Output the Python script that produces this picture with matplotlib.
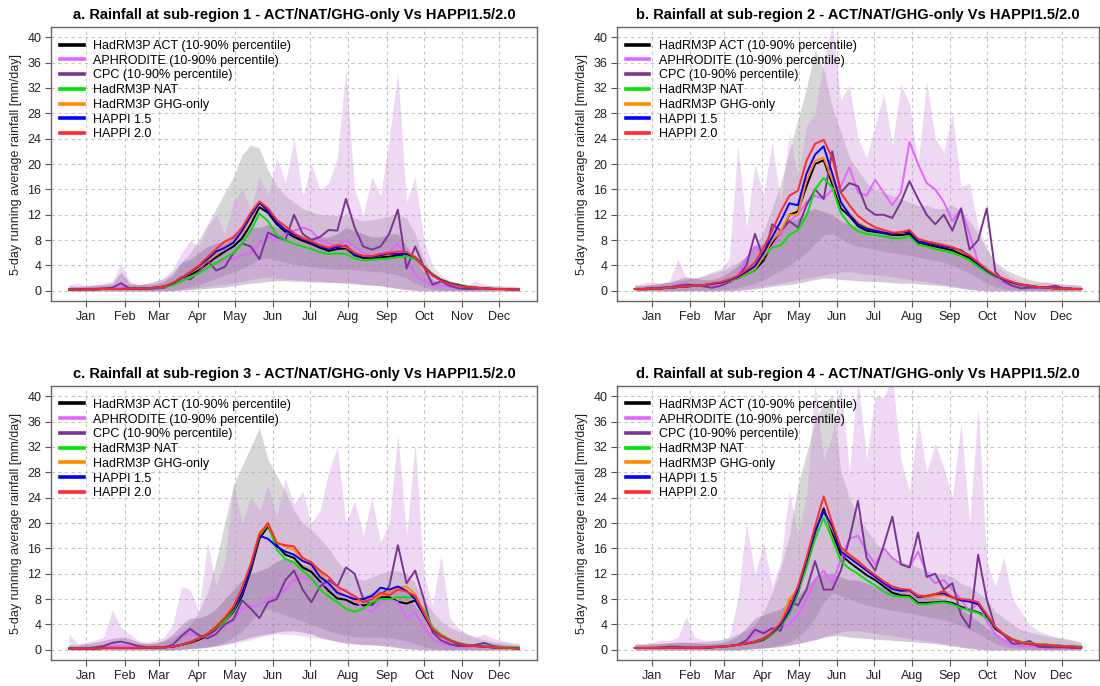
import matplotlib.pyplot as plt
from matplotlib.lines import Line2D
import numpy as np

plt.rcParams['font.family'] = ['Liberation Sans', 'DejaVu Sans']

# weekly sampling days (1 Jan .. 31 Dec) of the 5-day running means
DAYS = np.arange(1, 366, 7)
MONTH_DAYS = [15, 46, 74, 105, 135, 166, 196, 227, 258, 288, 319, 349]
MONTHS = ['Jan', 'Feb', 'Mar', 'Apr', 'May', 'Jun', 'Jul', 'Aug', 'Sep', 'Oct', 'Nov', 'Dec']
Y_TICKS = [0, 4, 8, 12, 16, 20, 24, 28, 32, 36, 40]

TITLES = [
    'a. Rainfall at sub-region 1 - ACT/NAT/GHG-only Vs HAPPI1.5/2.0',
    'b. Rainfall at sub-region 2 - ACT/NAT/GHG-only Vs HAPPI1.5/2.0',
    'c. Rainfall at sub-region 3 - ACT/NAT/GHG-only Vs HAPPI1.5/2.0',
    'd. Rainfall at sub-region 4 - ACT/NAT/GHG-only Vs HAPPI1.5/2.0',
]
LABELS = ['HadRM3P ACT (10-90% percentile)', 'APHRODITE (10-90% percentile)',
          'CPC (10-90% percentile)', 'HadRM3P NAT', 'HadRM3P GHG-only',
          'HAPPI 1.5', 'HAPPI 2.0']
COLORS = ['#000000', '#e066ff', '#7b3494', '#00e400', '#ff8c00', '#0000ff', '#ff2a2a']
BAND_COLORS = ['#a8a8a8', '#cc88dd', '#7a4b8a']
BAND_ALPHA = [0.45, 0.32, 0.30]

# ---------------- sub-region 1 ----------------
A_ACT = [0.2, 0.2, 0.25, 0.25, 0.3, 0.3, 0.3, 0.35, 0.35, 0.4, 0.5, 0.7, 1.1, 1.8, 2.5, 3.3, 4.3, 5.3, 6.2, 7.0,
         8.3, 10.5, 13.2, 12.3, 10.5, 9.3, 8.5, 7.9, 7.4, 6.8, 6.3, 6.6, 6.7, 5.6, 5.2, 5.2, 5.3, 5.4, 5.6, 5.7,
         5.2, 3.8, 2.5, 1.7, 1.2, 0.9, 0.6, 0.5, 0.4, 0.3, 0.3, 0.25, 0.2]
A_NAT = [0.2, 0.2, 0.25, 0.25, 0.3, 0.3, 0.3, 0.35, 0.35, 0.4, 0.5, 0.6, 0.9, 1.5, 2.1, 2.8, 3.6, 4.4, 5.2, 6.0,
         7.5, 9.5, 12.2, 11.0, 8.8, 8.0, 7.4, 7.0, 6.6, 6.1, 5.8, 5.9, 5.8, 5.1, 4.8, 4.9, 5.0, 5.1, 5.3, 5.5,
         5.0, 3.9, 2.7, 1.8, 1.3, 1.0, 0.7, 0.5, 0.4, 0.35, 0.3, 0.3, 0.3]
A_GHG = [0.2, 0.2, 0.25, 0.25, 0.3, 0.3, 0.3, 0.35, 0.35, 0.4, 0.5, 0.7, 1.2, 2.0, 2.8, 3.7, 4.8, 5.9, 7.0, 7.8,
         9.2, 11.5, 13.8, 12.8, 11.0, 9.8, 9.0, 8.3, 7.8, 7.2, 6.8, 7.0, 6.9, 5.8, 5.5, 5.4, 5.6, 5.8, 5.9, 6.0,
         5.4, 3.9, 2.6, 1.7, 1.2, 0.9, 0.6, 0.5, 0.4, 0.3, 0.3, 0.25, 0.2]
A_H15 = [0.2, 0.2, 0.25, 0.25, 0.3, 0.3, 0.3, 0.35, 0.35, 0.4, 0.5, 0.7, 1.2, 2.0, 2.9, 3.9, 5.0, 6.2, 6.8, 7.6,
         9.5, 11.8, 13.9, 12.6, 10.8, 9.6, 8.9, 8.2, 7.6, 7.0, 6.6, 6.9, 7.1, 5.7, 5.4, 5.4, 5.6, 5.9, 5.8, 5.9,
         5.3, 3.8, 2.5, 1.7, 1.2, 0.9, 0.6, 0.5, 0.4, 0.3, 0.3, 0.25, 0.2]
A_H20 = [0.2, 0.2, 0.25, 0.25, 0.3, 0.3, 0.3, 0.35, 0.35, 0.4, 0.5, 0.7, 1.3, 2.1, 3.0, 4.0, 5.3, 6.6, 7.8, 8.4,
         10.0, 12.3, 14.1, 13.0, 11.2, 10.2, 9.1, 8.3, 7.8, 7.2, 6.8, 7.2, 7.0, 6.0, 5.5, 5.5, 5.8, 6.0, 6.2, 6.1,
         5.3, 3.7, 2.4, 1.6, 1.1, 0.8, 0.6, 0.5, 0.4, 0.3, 0.3, 0.25, 0.2]
A_CPC = [0.3, 0.2, 0.3, 0.3, 0.4, 0.5, 1.2, 0.4, 0.3, 0.3, 0.4, 0.5, 1.2, 2.2, 1.8, 3.0, 4.8, 3.2, 3.8, 6.0,
         7.5, 7.0, 5.0, 9.2, 8.5, 8.0, 12.0, 9.0, 8.0, 8.5, 9.6, 9.5, 14.5, 10.0, 7.0, 6.5, 7.0, 9.0, 12.8, 3.5,
         7.0, 3.8, 1.0, 1.5, 0.8, 0.4, 0.3, 0.3, 0.4, 0.3, 0.3, 0.2, 0.2]
A_APH = [0.2, 0.2, 0.2, 0.3, 0.3, 0.3, 0.6, 0.3, 0.3, 0.3, 0.4, 0.5, 0.9, 1.8, 2.2, 2.8, 3.8, 4.2, 4.8, 5.0,
         5.6, 6.0, 7.5, 8.5, 8.0, 9.0, 9.5, 10.0, 9.5, 8.0, 7.5, 7.0, 8.0, 7.0, 6.0, 5.5, 6.0, 6.2, 7.5, 5.0,
         2.5, 1.5, 0.8, 1.0, 0.6, 0.4, 0.3, 0.3, 0.3, 0.3, 0.2, 0.2, 0.2]
A_ACT_LO = [0, 0, 0, 0, 0, 0, 0, 0, 0, 0, 0, 0.05, 0.1, 0.3, 0.6, 1.0, 1.5, 2.0, 2.5, 3.0,
            3.5, 4.2, 5.0, 5.2, 4.8, 4.5, 4.2, 4.0, 3.8, 3.6, 3.5, 3.4, 3.4, 3.3, 3.2, 3.1, 3.0, 2.8, 2.5, 2.0,
            1.2, 0.6, 0.3, 0.15, 0.1, 0.05, 0, 0, 0, 0, 0, 0, 0]
A_ACT_HI = [0.6, 0.6, 0.7, 0.7, 0.8, 0.8, 0.9, 1.0, 1.0, 1.2, 1.5, 2.0, 3.0, 4.5, 6.0, 8.0, 10.5, 13.0, 15.5, 18.0,
            21.5, 23.0, 22.5, 19.0, 16.5, 15.0, 14.0, 13.0, 12.5, 12.0, 12.0, 11.8, 12.0, 11.5, 11.0, 11.2, 11.5,
            11.8, 12.0, 11.5, 9.0, 5.0, 2.5, 1.8, 1.5, 1.2, 1.0, 0.9, 0.8, 0.8, 0.7, 0.7, 0.6]
A_CPC_LO = [0, 0, 0, 0, 0, 0, 0, 0, 0, 0, 0, 0, 0, 0.1, 0.2, 0.3, 0.4, 0.5, 0.6, 0.8,
            1.0, 1.2, 1.3, 1.5, 1.6, 1.6, 1.5, 1.5, 1.4, 1.4, 1.3, 1.3, 1.2, 1.1, 1.0, 0.9, 0.8, 0.6, 0.4, 0.2,
            0.1, 0, 0, 0, 0, 0, 0, 0, 0, 0, 0, 0, 0]
A_CPC_HI = [0.8, 0.7, 0.8, 0.9, 1.0, 1.2, 3.0, 1.2, 1.0, 1.0, 1.1, 1.5, 2.5, 4.5, 5.0, 6.0, 7.0, 7.5, 8.0, 9.0,
            9.5, 10.0, 10.0, 10.5, 10.0, 9.5, 9.0, 8.8, 8.5, 8.5, 8.5, 9.0, 10.0, 9.5, 9.0, 8.5, 8.5, 9.0, 9.0, 7.0,
            5.0, 3.0, 1.8, 1.2, 0.9, 0.8, 0.7, 0.6, 0.6, 0.6, 0.5, 0.5, 0.5]
A_APH_LO = [0, 0, 0, 0, 0, 0, 0, 0, 0, 0, 0, 0, 0.1, 0.2, 0.3, 0.5, 0.7, 0.9, 1.0, 1.2,
            1.5, 1.8, 2.0, 2.2, 2.0, 1.8, 1.8, 1.7, 1.6, 1.5, 1.4, 1.3, 1.3, 1.2, 1.0, 0.9, 0.8, 0.6, 0.4, 0.2,
            0.1, 0, 0, 0, 0, 0, 0, 0, 0, 0, 0, 0, 0]
A_APH_HI = [1.0, 1.2, 0.8, 1.0, 1.2, 1.5, 4.3, 1.5, 1.0, 1.2, 1.5, 2.0, 3.5, 6.0, 8.0, 7.0, 10.0, 12.0, 9.0, 14.0,
            16.0, 13.0, 18.0, 15.0, 21.0, 17.0, 24.0, 15.0, 20.0, 16.0, 17.0, 21.0, 35.0, 16.0, 12.0, 18.0, 15.0,
            24.0, 34.5, 14.0, 18.0, 8.0, 4.0, 2.5, 1.5, 1.2, 1.0, 1.5, 1.0, 0.8, 0.8, 0.7, 0.6]

# ---------------- sub-region 2 ----------------
B_ACT = [0.3, 0.3, 0.4, 0.4, 0.5, 0.6, 0.7, 0.8, 0.9, 1.1, 1.3, 1.6, 2.0, 2.6, 3.3, 4.8, 7.5, 9.0, 12.0, 12.5,
         16.5, 20.0, 20.6, 16.8, 13.0, 11.8, 10.2, 9.5, 9.3, 9.1, 8.8, 8.8, 9.0, 7.6, 7.3, 7.0, 6.7, 6.4, 5.8, 5.2,
         4.2, 3.2, 2.3, 1.8, 1.3, 0.9, 0.8, 0.6, 0.5, 0.4, 0.4, 0.3, 0.3]
B_NAT = [0.3, 0.3, 0.4, 0.4, 0.5, 0.6, 0.7, 0.8, 0.9, 1.1, 1.3, 1.6, 2.0, 2.5, 3.3, 5.5, 6.8, 7.2, 8.8, 9.6,
         11.8, 16.0, 17.8, 16.3, 12.3, 10.5, 9.4, 9.0, 8.8, 8.6, 8.3, 8.3, 8.6, 7.3, 7.0, 6.6, 6.3, 6.0, 5.5, 4.8,
         3.8, 2.9, 2.2, 1.8, 1.3, 1.0, 0.8, 0.6, 0.5, 0.4, 0.4, 0.3, 0.3]
B_GHG = [0.3, 0.3, 0.4, 0.4, 0.5, 0.6, 0.7, 0.8, 0.9, 1.1, 1.3, 1.7, 2.1, 2.8, 3.6, 5.5, 8.0, 9.5, 12.0, 12.0,
         17.5, 20.5, 21.0, 17.5, 13.8, 12.2, 10.8, 10.0, 9.6, 9.3, 9.0, 9.3, 9.5, 8.0, 7.7, 7.4, 7.1, 6.8, 6.2, 5.5,
         4.4, 3.3, 2.4, 1.9, 1.4, 1.0, 0.8, 0.6, 0.5, 0.4, 0.4, 0.3, 0.3]
B_H15 = [0.3, 0.3, 0.4, 0.4, 0.5, 0.6, 0.7, 0.8, 0.9, 1.1, 1.3, 1.7, 2.2, 3.0, 3.9, 6.0, 8.5, 11.0, 13.8, 13.5,
         18.5, 21.5, 22.8, 18.5, 14.0, 12.0, 10.5, 9.8, 9.5, 9.2, 9.0, 9.2, 9.3, 7.8, 7.6, 7.3, 7.0, 6.8, 6.4, 5.5,
         4.3, 3.2, 2.4, 1.8, 1.3, 1.0, 0.8, 0.6, 0.5, 0.4, 0.4, 0.3, 0.3]
B_H20 = [0.3, 0.3, 0.4, 0.4, 0.5, 0.6, 0.7, 0.8, 0.9, 1.2, 1.4, 1.8, 2.4, 3.3, 4.5, 6.8, 9.5, 12.5, 15.0, 15.8,
         20.5, 23.2, 23.8, 21.0, 15.5, 13.5, 11.8, 10.8, 10.0, 9.6, 9.2, 9.2, 9.6, 8.2, 7.8, 7.5, 7.2, 6.9, 6.3, 5.6,
         4.5, 3.4, 2.5, 1.9, 1.4, 1.0, 0.8, 0.6, 0.5, 0.4, 0.4, 0.3, 0.3]
B_CPC = [0.3, 0.2, 0.4, 0.5, 0.6, 0.8, 1.0, 0.9, 0.7, 0.5, 0.8, 1.4, 2.2, 4.0, 9.0, 5.0, 10.5, 9.5, 11.0, 10.0,
         13.5, 16.0, 14.5, 22.0, 15.5, 17.0, 16.5, 13.0, 12.0, 12.0, 11.5, 14.0, 17.3, 14.5, 12.0, 10.5, 12.0,
         9.5, 13.0, 6.5, 8.0, 13.0, 3.0, 1.5, 0.8, 0.4, 0.5, 0.5, 0.6, 0.8, 0.4, 0.3, 0.3]
B_APH = [0.3, 0.3, 0.4, 0.5, 0.5, 1.0, 1.0, 0.8, 0.8, 0.9, 1.0, 1.3, 2.5, 5.0, 7.0, 5.5, 7.0, 9.0, 11.0, 12.0,
         14.0, 15.0, 14.5, 16.0, 16.5, 19.5, 15.5, 15.0, 17.5, 15.5, 13.5, 15.5, 23.5, 20.0, 17.0, 16.0, 14.0,
         11.0, 13.0, 9.0, 4.5, 3.0, 2.0, 1.2, 0.7, 0.5, 0.5, 0.4, 0.4, 0.6, 0.4, 0.3, 0.3]
B_ACT_LO = [0, 0, 0, 0, 0, 0, 0.05, 0.1, 0.1, 0.15, 0.2, 0.3, 0.5, 0.8, 1.2, 1.8, 2.5, 3.2, 4.0, 5.0,
            6.0, 7.5, 8.8, 9.0, 8.2, 7.5, 7.0, 6.8, 6.5, 6.2, 6.0, 5.8, 5.6, 5.3, 5.0, 4.8, 4.5, 4.0, 3.4, 2.8,
            2.0, 1.2, 0.6, 0.3, 0.2, 0.1, 0.05, 0, 0, 0, 0, 0, 0]
B_ACT_HI = [0.8, 0.9, 1.0, 1.1, 1.3, 1.5, 1.8, 2.0, 2.3, 2.8, 3.2, 3.8, 4.5, 5.5, 7.0, 9.5, 13.0, 17.0, 22.0, 27.0,
            32.0, 38.0, 35.0, 29.0, 25.0, 21.0, 19.0, 17.0, 16.0, 15.5, 15.0, 14.5, 14.0, 13.5, 13.5, 13.0, 13.0,
            13.5, 12.5, 11.0, 9.0, 6.5, 4.5, 3.5, 2.8, 2.2, 1.8, 1.5, 1.3, 1.2, 1.1, 1.0, 0.9]
B_CPC_LO = [0, 0, 0, 0, 0, 0, 0, 0, 0, 0, 0, 0, 0.1, 0.2, 0.3, 0.5, 0.7, 0.9, 1.0, 1.2,
            1.5, 1.8, 2.0, 2.0, 1.8, 1.7, 1.6, 1.5, 1.5, 1.4, 1.3, 1.2, 1.2, 1.1, 1.0, 0.9, 0.8, 0.6, 0.4, 0.2,
            0.1, 0, 0, 0, 0, 0, 0, 0, 0, 0, 0, 0, 0]
B_CPC_HI = [0.8, 0.8, 1.0, 1.2, 1.4, 1.8, 2.2, 2.0, 1.8, 1.8, 2.2, 3.0, 4.0, 5.5, 7.0, 7.5, 9.0, 10.0, 11.0, 11.5,
            12.5, 13.0, 12.5, 12.0, 11.0, 10.5, 10.0, 9.5, 9.5, 9.2, 9.0, 9.0, 9.0, 8.5, 8.0, 7.8, 7.5, 7.0, 6.5, 5.5,
            4.5, 3.5, 2.5, 1.8, 1.3, 1.0, 0.9, 0.8, 0.8, 0.8, 0.7, 0.7, 0.6]
B_APH_LO = [0, 0, 0, 0, 0, 0, 0, 0, 0, 0, 0, 0, 0.1, 0.3, 0.5, 0.8, 1.0, 1.2, 1.5, 1.8,
            2.0, 2.2, 2.5, 2.8, 3.0, 3.0, 2.8, 2.6, 2.5, 2.4, 2.2, 2.0, 1.8, 1.6, 1.4, 1.2, 1.0, 0.8, 0.5, 0.3,
            0.1, 0, 0, 0, 0, 0, 0, 0, 0, 0, 0, 0, 0]
B_APH_HI = [1.0, 1.2, 1.5, 1.2, 1.5, 5.0, 2.0, 2.0, 2.5, 3.0, 3.5, 5.0, 23.0, 10.0, 20.0, 15.0, 23.5, 14.0, 25.0,
            18.0, 26.0, 28.0, 36.0, 42.0, 30.0, 32.5, 24.0, 21.0, 26.0, 31.0, 23.0, 32.5, 29.5, 20.0, 33.0, 24.0,
            22.0, 28.0, 16.5, 17.0, 10.0, 7.0, 4.0, 3.0, 2.0, 1.5, 1.2, 1.2, 1.5, 1.2, 1.0, 1.0, 0.8]

# ---------------- sub-region 3 ----------------
C_ACT = [0.2, 0.2, 0.2, 0.2, 0.3, 0.3, 0.3, 0.3, 0.3, 0.3, 0.4, 0.4, 0.5, 0.8, 1.1, 1.6, 2.2, 3.3, 4.5, 6.0,
         8.5, 12.5, 17.5, 19.5, 16.5, 15.0, 14.5, 13.0, 12.3, 10.8, 9.3, 8.1, 7.9, 7.2, 7.0, 7.2, 8.3, 8.3, 7.6, 7.3,
         7.8, 5.5, 3.2, 2.2, 1.5, 0.9, 0.7, 0.6, 0.5, 0.4, 0.3, 0.3, 0.2]
C_NAT = [0.2, 0.2, 0.2, 0.2, 0.3, 0.3, 0.3, 0.3, 0.3, 0.3, 0.4, 0.4, 0.5, 0.8, 1.2, 1.8, 2.4, 3.4, 4.5, 6.2,
         9.0, 13.0, 18.0, 19.8, 15.8, 14.3, 13.8, 12.5, 11.3, 9.5, 8.4, 7.5, 6.5, 6.0, 6.5, 7.5, 8.0, 8.0, 8.3, 8.3,
         8.2, 6.3, 3.6, 2.4, 1.6, 1.1, 0.8, 0.6, 0.5, 0.5, 0.4, 0.4, 0.4]
C_GHG = [0.2, 0.2, 0.2, 0.2, 0.3, 0.3, 0.3, 0.3, 0.3, 0.3, 0.4, 0.4, 0.5, 0.8, 1.2, 1.8, 2.6, 3.8, 5.2, 7.0,
         9.5, 13.5, 18.5, 19.8, 17.0, 16.3, 15.8, 14.2, 13.2, 12.3, 10.5, 9.3, 8.5, 7.8, 7.5, 8.0, 8.6, 9.2, 9.8, 10.0,
         8.8, 6.0, 3.4, 2.3, 1.5, 1.0, 0.7, 0.6, 0.5, 0.4, 0.3, 0.3, 0.2]
C_H15 = [0.2, 0.2, 0.2, 0.2, 0.3, 0.3, 0.3, 0.3, 0.3, 0.3, 0.4, 0.4, 0.5, 0.8, 1.2, 1.8, 2.5, 3.6, 5.0, 6.5,
         9.0, 13.0, 18.0, 17.5, 16.3, 15.5, 15.0, 14.0, 13.5, 11.5, 10.5, 9.0, 8.5, 8.0, 8.0, 8.5, 9.8, 9.5, 10.0, 9.3,
         8.0, 5.5, 3.2, 2.2, 1.5, 1.0, 0.7, 0.6, 0.5, 0.4, 0.3, 0.3, 0.2]
C_H20 = [0.2, 0.2, 0.2, 0.2, 0.3, 0.3, 0.3, 0.3, 0.3, 0.3, 0.4, 0.4, 0.5, 0.8, 1.2, 1.8, 2.5, 3.6, 5.0, 6.8,
         9.8, 13.5, 18.2, 20.0, 16.8, 16.5, 16.3, 14.5, 13.8, 12.5, 11.5, 10.0, 9.2, 8.5, 7.5, 8.0, 9.0, 8.6, 9.5, 9.2,
         8.5, 5.8, 3.3, 2.2, 1.5, 1.0, 0.7, 0.6, 0.5, 0.4, 0.3, 0.3, 0.2]
C_CPC = [0.3, 0.2, 0.2, 0.4, 0.6, 1.1, 1.3, 1.0, 0.6, 0.4, 0.3, 0.4, 0.8, 2.2, 3.3, 2.3, 1.8, 2.5, 4.0, 4.8,
         7.8, 6.5, 5.0, 7.5, 8.0, 11.0, 12.5, 9.5, 7.5, 10.0, 11.0, 10.0, 13.0, 12.0, 8.0, 7.0, 8.5, 10.0, 16.5,
         10.5, 12.5, 8.0, 2.8, 1.5, 0.9, 0.6, 0.6, 0.8, 1.1, 0.6, 0.4, 0.3, 0.2]
C_APH = [0.2, 0.2, 0.3, 0.3, 0.4, 0.6, 0.7, 0.6, 0.4, 0.4, 0.3, 0.4, 0.9, 2.0, 2.6, 2.0, 2.0, 2.8, 3.8, 4.5,
         6.5, 6.8, 7.0, 8.0, 8.5, 9.5, 11.0, 11.5, 11.0, 10.5, 10.0, 9.5, 9.5, 8.0, 6.5, 6.0, 7.5, 8.0, 7.5, 5.0,
         6.0, 3.5, 1.8, 1.0, 0.6, 0.5, 0.4, 0.5, 0.6, 0.4, 0.3, 0.3, 0.2]
C_ACT_LO = [0, 0, 0, 0, 0, 0, 0, 0, 0, 0, 0, 0, 0, 0.1, 0.2, 0.3, 0.5, 0.8, 1.2, 2.0,
            3.0, 4.5, 6.0, 6.5, 6.0, 5.5, 5.0, 4.5, 4.0, 3.5, 3.0, 2.6, 2.3, 2.1, 2.0, 2.0, 2.0, 1.9, 1.7, 1.4,
            1.0, 0.5, 0.2, 0.1, 0, 0, 0, 0, 0, 0, 0, 0, 0]
C_ACT_HI = [0.6, 0.6, 0.7, 0.7, 0.8, 0.8, 0.9, 0.9, 1.0, 1.0, 1.2, 1.5, 2.0, 2.8, 4.0, 6.0, 9.0, 14.0, 20.0, 26.0,
            29.0, 32.0, 35.0, 30.0, 27.5, 25.0, 22.0, 20.0, 19.0, 17.5, 16.0, 14.0, 12.5, 11.5, 11.0, 11.5, 12.0,
            12.5, 12.5, 12.0, 10.5, 8.0, 6.0, 4.5, 3.5, 3.0, 2.5, 2.0, 1.6, 1.3, 1.2, 1.0, 0.9]
C_CPC_LO = [0, 0, 0, 0, 0, 0, 0, 0, 0, 0, 0, 0, 0, 0.1, 0.2, 0.3, 0.4, 0.6, 0.9, 1.2,
            1.6, 2.0, 2.3, 2.5, 2.8, 3.0, 3.0, 2.8, 2.5, 2.0, 1.6, 1.3, 1.0, 0.9, 0.8, 0.8, 0.7, 0.6, 0.4, 0.2,
            0.1, 0, 0, 0, 0, 0, 0, 0, 0, 0, 0, 0, 0]
C_CPC_HI = [0.8, 0.8, 1.0, 1.2, 1.5, 1.8, 2.0, 1.8, 1.2, 1.0, 1.0, 1.5, 2.5, 4.0, 5.0, 5.0, 5.5, 6.5, 8.0, 9.5,
            11.0, 12.0, 12.5, 13.0, 14.0, 14.5, 14.0, 13.5, 13.0, 12.0, 10.5, 9.0, 8.0, 8.0, 8.5, 9.0, 9.5, 9.5, 9.5,
            9.0, 7.0, 5.0, 3.0, 2.0, 1.5, 1.2, 1.0, 1.0, 1.2, 1.0, 0.8, 0.7, 0.6]
C_APH_LO = [0, 0, 0, 0, 0, 0, 0, 0, 0, 0, 0, 0, 0, 0.1, 0.2, 0.3, 0.4, 0.6, 0.8, 1.0,
            1.3, 1.6, 2.0, 2.3, 2.5, 2.5, 2.4, 2.2, 2.0, 1.8, 1.6, 1.4, 1.2, 1.0, 0.9, 0.8, 0.7, 0.5, 0.3, 0.2,
            0.1, 0, 0, 0, 0, 0, 0, 0, 0, 0, 0, 0, 0]
C_APH_HI = [2.5, 1.0, 1.2, 1.5, 2.0, 6.3, 3.5, 2.5, 1.5, 1.2, 1.5, 2.0, 4.0, 10.0, 9.5, 6.0, 17.0, 10.0, 14.0, 26.0,
            20.0, 24.0, 22.0, 26.0, 21.0, 27.0, 23.0, 25.0, 20.0, 22.0, 28.0, 32.0, 20.0, 23.6, 18.0, 24.0, 17.0,
            20.0, 34.0, 18.0, 32.5, 12.0, 7.0, 15.0, 5.0, 3.5, 2.5, 2.0, 2.5, 1.8, 1.5, 1.2, 1.0]

# ---------------- sub-region 4 ----------------
D_ACT = [0.3, 0.3, 0.3, 0.3, 0.3, 0.3, 0.3, 0.3, 0.3, 0.4, 0.5, 0.6, 0.8, 1.0, 1.2, 1.6, 2.5, 3.8, 5.8, 9.0,
         13.5, 18.5, 22.3, 18.5, 15.0, 13.8, 12.8, 11.8, 11.0, 10.0, 9.0, 8.6, 8.5, 7.4, 7.4, 7.5, 7.6, 7.4, 6.8, 6.3,
         5.9, 5.2, 3.3, 2.4, 1.6, 1.2, 1.0, 0.9, 0.8, 0.7, 0.6, 0.5, 0.4]
D_NAT = [0.3, 0.3, 0.3, 0.3, 0.3, 0.3, 0.3, 0.3, 0.3, 0.4, 0.5, 0.6, 0.8, 1.0, 1.2, 1.7, 2.5, 3.8, 5.8, 9.0,
         13.0, 17.5, 20.8, 17.5, 14.0, 12.8, 12.0, 11.0, 10.2, 9.2, 8.5, 8.4, 8.3, 7.2, 7.2, 7.4, 7.5, 7.2, 6.6, 6.2,
         5.8, 5.0, 3.5, 2.5, 1.7, 1.3, 1.0, 0.9, 0.8, 0.7, 0.6, 0.6, 0.5]
D_GHG = [0.3, 0.3, 0.3, 0.3, 0.3, 0.3, 0.3, 0.3, 0.3, 0.4, 0.5, 0.6, 0.8, 1.0, 1.3, 1.8, 2.8, 4.2, 8.0, 9.5,
         14.0, 19.0, 21.8, 19.0, 16.0, 14.8, 13.8, 12.5, 11.5, 10.8, 9.8, 9.4, 9.2, 8.3, 8.3, 8.5, 8.6, 8.2, 7.8, 7.8,
         7.2, 5.5, 3.6, 2.5, 1.7, 1.2, 1.0, 0.9, 0.8, 0.7, 0.6, 0.5, 0.4]
D_H15 = [0.3, 0.3, 0.3, 0.3, 0.3, 0.3, 0.3, 0.3, 0.3, 0.4, 0.5, 0.6, 0.8, 1.0, 1.3, 1.8, 2.7, 4.0, 6.2, 9.5,
         14.0, 18.8, 21.8, 19.5, 15.5, 14.5, 13.5, 12.5, 11.5, 10.5, 9.6, 9.3, 9.4, 8.3, 8.5, 8.8, 8.9, 8.3, 7.8, 7.6,
         7.2, 5.4, 3.5, 2.4, 1.6, 1.1, 0.9, 0.8, 0.7, 0.6, 0.5, 0.5, 0.4]
D_H20 = [0.3, 0.3, 0.3, 0.3, 0.3, 0.3, 0.3, 0.3, 0.3, 0.4, 0.5, 0.6, 0.8, 1.0, 1.3, 1.8, 2.8, 4.3, 6.8, 10.0,
         14.5, 19.5, 24.2, 20.0, 16.2, 15.0, 14.0, 12.8, 11.8, 10.8, 10.0, 9.6, 9.5, 8.5, 8.5, 8.8, 9.3, 8.3, 8.0, 7.9,
         7.5, 5.6, 3.6, 2.4, 1.6, 1.1, 0.9, 0.8, 0.7, 0.6, 0.5, 0.5, 0.4]
D_CPC = [0.3, 0.3, 0.3, 0.4, 0.5, 0.5, 0.4, 0.4, 0.4, 0.5, 0.5, 0.6, 0.8, 1.5, 3.2, 2.6, 3.4, 3.0, 7.8, 7.0,
         9.5, 14.0, 9.5, 9.5, 12.5, 17.5, 23.5, 14.5, 12.5, 16.5, 21.0, 13.5, 13.0, 18.5, 11.5, 12.0, 9.5, 10.5,
         5.5, 3.5, 15.0, 8.0, 3.5, 2.3, 1.0, 1.0, 1.4, 0.5, 0.4, 0.4, 0.4, 0.3, 0.3]
D_APH = [0.3, 0.3, 0.3, 0.3, 0.4, 0.4, 0.4, 0.4, 0.4, 0.4, 0.5, 0.6, 0.8, 1.3, 2.5, 3.0, 3.4, 3.6, 4.0, 5.5,
         8.0, 11.0, 12.5, 10.5, 14.2, 17.5, 18.0, 15.5, 13.5, 16.0, 14.5, 13.5, 13.0, 15.5, 12.0, 10.5, 11.0, 9.5,
         8.0, 6.0, 7.5, 4.5, 2.5, 1.5, 0.8, 0.6, 0.6, 0.4, 0.4, 0.3, 0.3, 0.3, 0.3]
D_ACT_LO = [0, 0, 0, 0, 0, 0, 0, 0, 0, 0, 0, 0, 0, 0.1, 0.2, 0.3, 0.5, 0.8, 1.2, 2.0,
            3.2, 5.0, 7.5, 9.0, 8.5, 8.0, 7.5, 7.0, 6.8, 6.5, 6.2, 6.0, 5.8, 5.5, 5.2, 5.0, 4.7, 4.3, 3.8, 3.2,
            2.5, 1.8, 1.0, 0.5, 0.3, 0.2, 0.1, 0.05, 0, 0, 0, 0, 0]
D_ACT_HI = [0.8, 0.9, 1.0, 1.0, 1.1, 1.2, 1.2, 1.2, 1.3, 1.4, 1.6, 2.0, 2.5, 3.0, 4.0, 6.0, 9.0, 13.0, 18.0, 26.0,
            31.0, 36.0, 39.0, 40.0, 28.0, 24.0, 21.0, 19.0, 17.0, 15.5, 14.5, 14.0, 13.5, 13.0, 12.5, 12.0, 12.0,
            11.5, 10.5, 10.0, 9.0, 8.0, 6.0, 5.0, 4.0, 3.2, 2.8, 2.5, 2.2, 2.0, 1.8, 1.5, 1.2]
D_CPC_LO = [0, 0, 0, 0, 0, 0, 0, 0, 0, 0, 0, 0, 0, 0.1, 0.2, 0.3, 0.4, 0.5, 0.7, 1.0,
            1.3, 1.6, 2.0, 2.2, 2.2, 2.0, 1.9, 1.8, 1.7, 1.6, 1.5, 1.4, 1.3, 1.2, 1.1, 1.0, 0.8, 0.6, 0.4, 0.2,
            0.1, 0, 0, 0, 0, 0, 0, 0, 0, 0, 0, 0, 0]
D_CPC_HI = [0.8, 0.8, 0.9, 1.0, 1.1, 1.2, 1.2, 1.1, 1.0, 1.0, 1.1, 1.5, 2.2, 3.5, 5.0, 5.5, 6.0, 6.5, 7.5, 8.5,
            10.0, 11.5, 12.0, 12.0, 11.5, 11.0, 11.0, 10.5, 10.0, 10.0, 9.8, 9.5, 9.5, 9.0, 8.5, 8.3, 8.0, 7.5, 6.5,
            5.5, 4.5, 3.5, 2.5, 1.8, 1.3, 1.0, 0.9, 0.8, 0.8, 0.8, 0.7, 0.7, 0.6]
D_APH_LO = [0, 0, 0, 0, 0, 0, 0, 0, 0, 0, 0, 0, 0, 0.1, 0.2, 0.3, 0.4, 0.6, 0.8, 1.0,
            1.3, 1.6, 2.0, 2.5, 2.8, 3.0, 3.0, 2.8, 2.6, 2.4, 2.2, 2.0, 1.8, 1.6, 1.4, 1.2, 1.0, 0.8, 0.5, 0.3,
            0.1, 0, 0, 0, 0, 0, 0, 0, 0, 0, 0, 0, 0]
D_APH_HI = [1.0, 1.0, 1.2, 1.5, 1.5, 2.0, 5.2, 2.0, 1.5, 1.5, 1.5, 2.0, 8.0, 20.0, 12.0, 17.0, 10.0, 14.0, 25.0,
            18.0, 24.0, 42.0, 30.0, 34.0, 42.0, 28.0, 43.0, 30.0, 40.0, 39.8, 43.0, 30.0, 25.0, 36.5, 28.0, 32.6,
            28.7, 24.0, 35.7, 20.0, 38.3, 14.0, 10.0, 14.6, 8.0, 6.0, 4.0, 3.0, 2.5, 2.0, 1.8, 1.5, 1.2]

PANELS = [
    (TITLES[0], [A_ACT, A_APH, A_CPC, A_NAT, A_GHG, A_H15, A_H20],
     [(A_ACT_LO, A_ACT_HI), (A_APH_LO, A_APH_HI), (A_CPC_LO, A_CPC_HI)]),
    (TITLES[1], [B_ACT, B_APH, B_CPC, B_NAT, B_GHG, B_H15, B_H20],
     [(B_ACT_LO, B_ACT_HI), (B_APH_LO, B_APH_HI), (B_CPC_LO, B_CPC_HI)]),
    (TITLES[2], [C_ACT, C_APH, C_CPC, C_NAT, C_GHG, C_H15, C_H20],
     [(C_ACT_LO, C_ACT_HI), (C_APH_LO, C_APH_HI), (C_CPC_LO, C_CPC_HI)]),
    (TITLES[3], [D_ACT, D_APH, D_CPC, D_NAT, D_GHG, D_H15, D_H20],
     [(D_ACT_LO, D_ACT_HI), (D_APH_LO, D_APH_HI), (D_CPC_LO, D_CPC_HI)]),
]

# axes boxes in figure fractions (left, bottom, width, height)
BOXES = [
    [0.0464, 0.5612, 0.4418, 0.3994],
    [0.5609, 0.5612, 0.4382, 0.3994],
    [0.0464, 0.0379, 0.4418, 0.3994],
    [0.5609, 0.0379, 0.4382, 0.3994],
]

# drawing order: observations first, then model runs, HAPPI 2.0 on top
DRAW_ORDER = [1, 2, 0, 3, 4, 5, 6]


def draw_panel(ax, title, lines, bands):
    for (lo, hi), col, alpha in zip(bands, BAND_COLORS, BAND_ALPHA):
        ax.fill_between(DAYS, lo, hi, color=col, alpha=alpha, linewidth=0, zorder=1)
    for i in DRAW_ORDER:
        ax.plot(DAYS, lines[i], color=COLORS[i], lw=1.4, zorder=3 + i)

    ax.set_xlim(-13.56, 379.56)
    ax.set_ylim(-1.6, 41.6)
    ax.set_xticks(MONTH_DAYS)
    ax.set_xticklabels(MONTHS)
    ax.set_yticks(Y_TICKS)
    ax.grid(True, color='#c4c4c4', lw=0.8, linestyle=(0, (3, 3)), zorder=0)
    ax.set_axisbelow(True)
    ax.tick_params(labelsize=9, length=4, color='#555555', labelcolor='#222222', pad=3)
    for sp in ax.spines.values():
        sp.set_color('#666666')
        sp.set_linewidth(1.0)
    ax.set_ylabel('5-day running average rainfall [mm/day]', fontsize=9, color='#222222', labelpad=4)
    ax.set_title(title, fontsize=10.5, fontweight='bold', pad=6)

    handles = [Line2D([], [], color=c, lw=2.6) for c in COLORS]
    ax.legend(handles, LABELS, loc='upper left', frameon=False, fontsize=9,
              handlelength=1.9, handletextpad=0.75, labelspacing=0.22,
              borderaxespad=0.3, bbox_to_anchor=(0.0, 0.985))


fig = plt.figure(figsize=(11, 6.86), dpi=100)
for box, (title, lines, bands) in zip(BOXES, PANELS):
    ax = fig.add_axes(box)
    draw_panel(ax, title, lines, bands)

fig.savefig('out.png', dpi=100)
